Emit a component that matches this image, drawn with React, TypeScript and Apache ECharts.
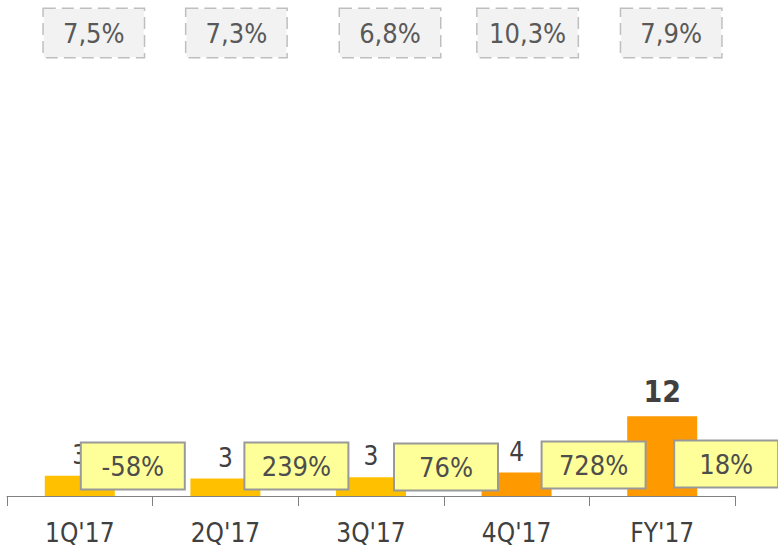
import React, { useEffect, useRef } from "react";
import * as echarts from "echarts";

const categories = ["1Q'17", "2Q'17", "3Q'17", "4Q'17", "FY'17"];
const values = [3.0, 2.6, 2.8, 3.5, 11.9];
const growth = ["-58%", "239%", "76%", "728%", "18%"];
const margins = ["7,5%", "7,3%", "6,8%", "10,3%", "7,9%"];

const barColors = ["#FFC000", "#FFC000", "#FFC000", "#FF9900", "#FF9900"];
const growthOffsets = [[53, -30], [71, -30], [75, -29], [77, -31], [64, -32]];
const marginOffsets = [14, 11, 19, 11, 9];
const Y_MAX = 69;
const FONT = "'DejaVu Sans Condensed', 'DejaVu Sans', sans-serif";

export default function App() {
  const ref = useRef<HTMLDivElement>(null);
  useEffect(() => {
    const chart = echarts.init(ref.current!, null, { renderer: "svg" });
    chart.setOption({
      animation: false,
      grid: { left: 7, right: 43, top: 33, bottom: 51 },
      xAxis: {
        type: "category",
        data: categories,
        axisLine: { lineStyle: { color: "#808080", width: 1 } },
        axisTick: { show: true, length: 10, lineStyle: { color: "#808080", width: 1 } },
        axisLabel: { color: "#404040", fontSize: 26, fontFamily: FONT, margin: 24 },
      },
      yAxis: { type: "value", min: 0, max: Y_MAX, show: false, splitLine: { show: false } },
      series: [
        {
          type: "bar",
          barWidth: 70,
          z: 2,
          data: values.map((v, i) => ({
            value: v,
            itemStyle: { color: barColors[i] },
            label:
              i === 4
                ? { fontWeight: "bold", fontSize: 30, color: "#404040", distance: 10 }
                : undefined,
          })),
          label: {
            show: true,
            position: "top",
            distance: 8,
            color: "#404040",
            fontSize: 26,
            fontFamily: FONT,
            formatter: (p: any) => String(Math.round(p.value)),
          },
        },
        {
          type: "scatter",
          z: 5,
          symbol: "rect",
          symbolSize: 0,
          itemStyle: { color: "#FFFF99", opacity: 1 },
          emphasis: { disabled: true },
          data: growth.map((g, i) => ({
            value: 0,
            label: { offset: growthOffsets[i] },
          })),
          label: {
            show: true,
            position: "inside",
            formatter: (p: any) => growth[p.dataIndex],
            color: "#4d4d4d",
            opacity: 1,
            fontSize: 27,
            fontFamily: FONT,
            backgroundColor: "#FFFF99",
            borderColor: "#999999",
            borderWidth: 2,
            width: 74,
            align: "center",
            lineHeight: 35,
            padding: [5, 14, 5, 14],
          },
        },
        {
          type: "scatter",
          z: 5,
          symbol: "rect",
          symbolSize: 0,
          itemStyle: { color: "#F2F2F2", opacity: 1 },
          emphasis: { disabled: true },
          data: margins.map((m, i) => ({
            value: Y_MAX,
            label: { offset: [marginOffsets[i], 0] },
          })),
          label: {
            show: true,
            position: "inside",
            formatter: (p: any) => margins[p.dataIndex],
            color: "#595959",
            opacity: 1,
            fontSize: 27,
            fontFamily: FONT,
            backgroundColor: "#F2F2F2",
            borderColor: "#BFBFBF",
            borderWidth: 1.5,
            borderType: "dashed",
            width: 72,
            align: "center",
            lineHeight: 36,
            padding: [6, 14, 6, 14],
          },
        },
      ],
    });
    return () => chart.dispose();
  }, []);
  return <div ref={ref} style={{ width: 778, height: 547, position: "absolute", left: 0, top: 0 }} />;
}
